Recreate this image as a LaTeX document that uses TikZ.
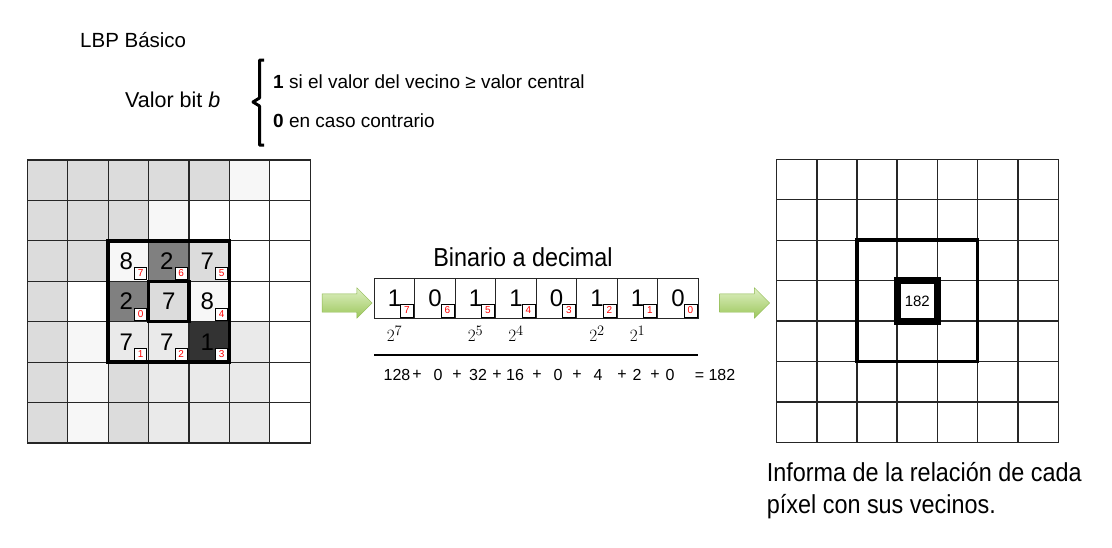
\documentclass[tikz,border=0pt]{standalone}
\usepackage{fontspec}
\setmainfont{Liberation Sans}
\newfontfamily\narrowfont{Liberation Sans}[FakeStretch=0.9]
\usepackage{tikz}
\usetikzlibrary{positioning}
\usetikzlibrary{shapes.arrows}
\usepackage{xcolor}
\definecolor{grisA}{HTML}{DCDCDC}
\definecolor{grisV}{HTML}{F7F7F7}
\definecolor{grisW}{HTML}{FFFFFF}
\definecolor{grisM}{HTML}{808080}
\definecolor{grisD}{HTML}{333333}
\definecolor{grisE}{HTML}{EAEAEA}
\definecolor{verdeA}{HTML}{DFF0C4}
\definecolor{verdeB}{HTML}{9CC75B}
\definecolor{verdeC}{HTML}{8DB84E}

\begin{document}
\begin{tikzpicture}[x=1pt, y=-1pt,
        celda/.style={draw=black!85, line width=1.2pt, minimum size=40.43pt, inner sep=0pt, outer sep=0pt},
        cifra/.style={font=\fontsize{24}{24}\selectfont},
        indice/.style={draw, line width=0.6pt, fill=white, text=red, minimum size=12pt, inner sep=0pt, font=\fontsize{10}{10}\selectfont},
        flecha/.style={shape=single arrow, draw=verdeC, top color=verdeA, bottom color=verdeB, minimum height=50pt, minimum width=30pt, single arrow head extend=6pt, inner xsep=0pt, inner ysep=9pt},
        marco/.style={line width=3.5pt},
        texto/.style={anchor=base west, inner sep=0pt}]
                \useasboundingbox (0,0) rectangle (1112,547);
                \node[texto, font=\fontsize{20.5}{22}\selectfont] (titulo) at (80,47) {LBP Básico};
                \node[texto, font=\fontsize{21.5}{22}\selectfont] (valor) at (125,107) {Valor bit \textit{b}};
                \draw[line width=3pt, line join=round] (264,60) -- (259.5,60) -- (259.5,98) -- (253,102) -- (259.5,106) -- (259.5,145) -- (264,145);
                \node[texto, font=\fontsize{19}{20}\selectfont] (regla1) at (273,88) {\textbf{1} si el valor del vecino ≥ valor central};
                \node[texto, font=\fontsize{19}{20}\selectfont] (regla0) at (273,127) {\textbf{0} en caso contrario};
                % imagen original
                \foreach \tono [count=\n from 0] in {grisA,grisA,grisA,grisA,grisA,grisV,grisW,
                                grisA,grisA,grisA,grisV,grisW,grisW,grisW,
                                grisA,grisA,grisV,grisM,grisA,grisW,grisW,
                                grisA,grisW,grisM,grisA,grisV,grisW,grisW,
                                grisA,grisV,grisE,grisE,grisD,grisE,grisW,
                                grisA,grisV,grisA,grisE,grisE,grisE,grisW,
                                grisA,grisV,grisA,grisE,grisE,grisE,grisW} {
                        \pgfmathtruncatemacro{\fila}{\n/7}
                        \pgfmathtruncatemacro{\cc}{mod(\n,7)}
                        \node[celda, fill=\tono] (c-\fila-\cc) at ({47.5+40.43*\cc},{180.2+40.43*\fila}) {};
                }
                \foreach \fila/\cc/\v/\k in {2/2/8/7, 2/3/2/6, 2/4/7/5, 3/2/2/0, 3/4/8/4, 4/2/7/1, 4/3/7/2, 4/4/1/3} {
                        \node[cifra] (v-\fila-\cc) at ([xshift=-2pt]c-\fila-\cc) {\v};
                        \node[indice, anchor=south east] (k-\fila-\cc) at ([shift={(-1.5,-1.5)}]c-\fila-\cc.south east) {\k};
                }
                \node[cifra] (centro) at (c-3-3) {7};
                \draw[marco] (c-2-2.north west) rectangle (c-4-4.south east);
                \draw[marco] (c-3-3.north west) rectangle (c-3-3.south east);
                \node[flecha] (flechaA) at (342.5,303) {};
                % binario a decimal
                \node[anchor=base, inner sep=0pt, font=\narrowfont\fontsize{26}{28}\selectfont] (binario) at (523,266) {Binario a decimal};
                \foreach \b/\k [count=\n from 0] in {1/7,0/6,1/5,1/4,0/3,1/2,1/1,0/0} {
                        \node[celda, cifra, line width=1pt, minimum height=40pt] (bit\k) at ({394.5+40.5*\n},298.3) {\b};
                        \node[indice, anchor=south east, minimum size=13pt] (ib\k) at ([shift={(-1,-1)}]bit\k.south east) {\k};
                }
                \foreach \k in {7,5,4,2,1}
                        \node[font=\fontsize{19}{19}\selectfont] (p\k) [below=4pt of bit\k] {$2^{\k}$};
                \draw[line width=2.5pt] (374,355) -- (698,355);
                \foreach \x/\t in {397/128, 417/+, 438/0, 457/+, 478/32, 497/+, 515/16, 537/+, 558/0, 577/+, 598/4, 622/+, 637/2, 655/+, 670/0, 715/= 182}
                        \node[font=\fontsize{16}{16}\selectfont] (s\x) at (\x,375) {\t};
                \node[flecha] (flechaB) at (740,303) {};
                % resultado
                \foreach \fila in {0,...,6}
                        \foreach \cc in {0,...,6}
                                \node[celda] (g-\fila-\cc) at ({796.7+40.2*\cc},{179.5+40.45*\fila}) {};
                \draw[marco] (g-2-2.north west) rectangle (g-4-4.south east);
                \draw[line width=7pt] (g-3-3.north west) rectangle (g-3-3.south east);
                \node[font=\fontsize{15}{15}\selectfont] (res) at (g-3-3) {182};
                \node[texto, font=\narrowfont\fontsize{26}{28}\selectfont] (info1) at (766.7,481.7) {Informa de la relación de cada};
                \node[texto, font=\narrowfont\fontsize{26}{28}\selectfont] (info2) at (766.7,513.3) {píxel con sus vecinos.};
                %\draw[dashed] (flechaA) -- (flechaB);
        \end{tikzpicture}
\end{document}
